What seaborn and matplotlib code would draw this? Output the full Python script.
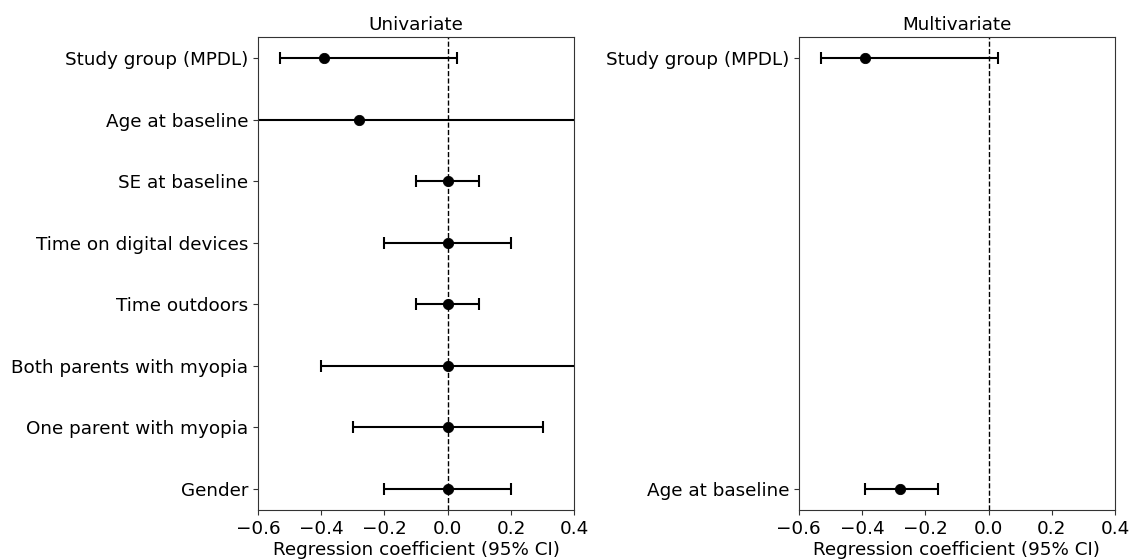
import numpy as np
import pandas as pd
import matplotlib.pyplot as plt
import seaborn as sns

# univariate estimates (top to bottom)
uni_labels = ['Study group (MPDL)', 'Age at baseline', 'SE at baseline',
              'Time on digital devices', 'Time outdoors',
              'Both parents with myopia', 'One parent with myopia', 'Gender']
uni_coef = [-0.39, -0.28, 0.0, 0.0, 0.0, 0.0, 0.0, 0.0]
uni_low = [-0.53, -1.2, -0.1, -0.2, -0.1, -0.4, -0.3, -0.2]
uni_high = [0.03, 0.7, 0.1, 0.2, 0.1, 0.6, 0.3, 0.2]

# multivariate estimates
multi_labels = ['Study group (MPDL)', 'Age at baseline']
multi_coef = [-0.39, -0.28]
multi_low = [-0.53, -0.39]
multi_high = [0.03, -0.16]

sns.set_theme(style='ticks', rc={
    'axes.edgecolor': '#333333', 'text.color': 'black',
    'axes.labelcolor': 'black', 'xtick.color': '#333333', 'ytick.color': '#333333',
    'xtick.labelcolor': 'black', 'ytick.labelcolor': 'black',
    'axes.spines.top': True, 'axes.spines.right': True,
    'axes.linewidth': 0.8, 'xtick.major.width': 0.8, 'ytick.major.width': 0.8,
    'xtick.major.size': 3.5, 'ytick.major.size': 3.5,
})
plt.rcParams['font.family'] = ['DejaVu Sans']

fig, axes = plt.subplots(1, 2, figsize=(11.29, 5.6), dpi=100)


def forest(ax, labels, coef, low, high, title):
    df = pd.DataFrame({'label': labels, 'coef': coef, 'low': low, 'high': high})
    df['pos'] = np.arange(len(df))[::-1]
    ax.errorbar(df['coef'], df['pos'],
                xerr=[df['coef'] - df['low'], df['high'] - df['coef']],
                fmt='none', ecolor='black', elinewidth=1.5, capsize=4.5, capthick=1.5)
    sns.scatterplot(data=df, x='coef', y='pos', ax=ax, color='black', s=55,
                    edgecolor='black', zorder=3, legend=False)
    ax.axvline(0, color='black', linestyle='--', linewidth=1)
    ax.set_xlim(-0.6, 0.4)
    ax.set_yticks(df['pos'])
    ax.set_yticklabels(df['label'], fontsize=13.2)
    ax.tick_params(axis='x', labelsize=13.2)
    ax.margins(y=0.05)
    ax.set_xlabel('Regression coefficient (95% CI)', fontsize=13.2, labelpad=2)
    ax.set_ylabel('')
    ax.set_title(title, fontsize=13.2, pad=5)


forest(axes[0], uni_labels, uni_coef, uni_low, uni_high, 'Univariate')
forest(axes[1], multi_labels, multi_coef, multi_low, multi_high, 'Multivariate')

fig.subplots_adjust(left=0.2285, right=0.9876, top=0.934, bottom=0.089, wspace=0.71)
fig.savefig('out.png', dpi=100)
